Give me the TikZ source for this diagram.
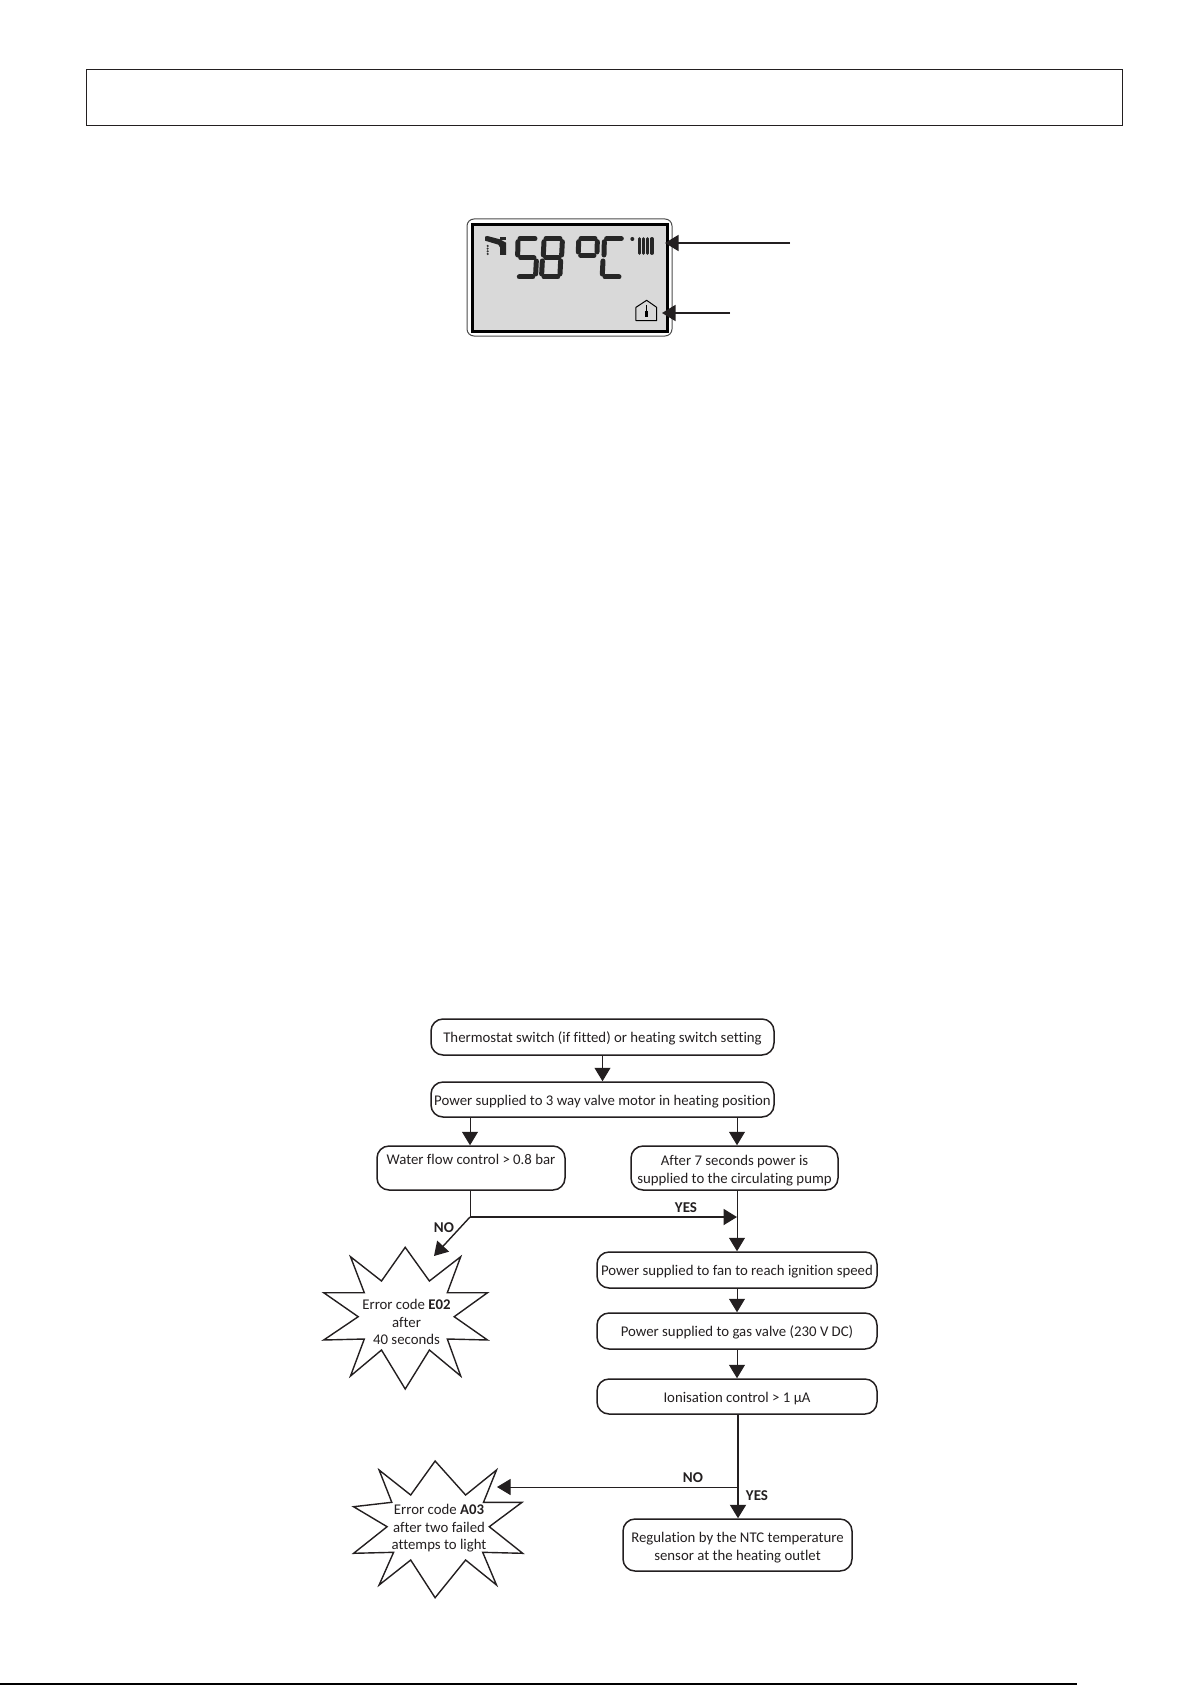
\documentclass[tikz,border=0pt]{standalone}
\usepackage{fontspec}
\setmainfont[Ligatures=NoCommon]{Carlito}
\usetikzlibrary{arrows.meta}
\definecolor{ink}{HTML}{231F20}
\newcommand{\lowered}[1]{\rule{0pt}{#1pt}}
\tikzset{
  flowbox/.style={draw=ink,line width=1.5pt,rounded corners=12pt,inner sep=0pt,align=center,font=\fontsize{14.8}{17.8}\selectfont,text=ink},
  plain/.style={inner sep=0pt,align=center,font=\fontsize{14.8}{17.6}\selectfont,text=ink},
  lab/.style={inner sep=0pt,font=\fontsize{15}{17}\selectfont\bfseries,text=ink},
  tip/.style={-{Triangle[length=13.5pt,width=16pt]},draw=ink,fill=ink},
  thin link/.style={draw=ink,line width=0.95pt},
  mid link/.style={draw=ink,line width=1.4pt},
  thick link/.style={draw=ink,line width=2pt},
  star/.style={draw=ink,line width=1.4pt,line join=miter},
  seg/.style={draw=black!85,line width=5pt,line cap=round},
}
\begin{document}
\begin{tikzpicture}[x=1pt,y=-1pt]
\useasboundingbox (0,0) rectangle (1192,1685);
% header box and footer rule
\node[draw=ink,line width=0.8pt,minimum width=1036pt,minimum height=56pt,inner sep=0pt] (header) at (604,97) {};
\coordinate (ruleA) at (0,1684);
\coordinate (ruleB) at (1077,1684);
\draw[black,line width=2pt] (ruleA) -- (ruleB);
% display
\node[draw=black!70,line width=1pt,rounded corners=7pt,minimum width=205pt,minimum height=117pt,inner sep=0pt] (lcdout) at (569.5,277.5) {};
\node[draw=black,fill=black!15,line width=2.6pt,minimum width=195pt,minimum height=107pt,inner sep=0pt] (lcd) at (570,278) {};
\begin{scope}[shift={(450,200)},x=0.3333pt,y=-0.3333pt]
  % tap
  \fill[black!85] (105,110) -- (105,122) -- (145,134) -- (150,142) -- (150,165) -- (168,165) -- (168,128) -- (150,118) -- (112,108) -- cycle;
  \fill[black!85] (150,112) rectangle (168,121);
  \foreach \yy in {138,146,154,162} \fill[black!80] (113,\yy) circle (3.5);
  % 5
  \draw[seg] (210,116) -- (255,116);
  \draw[seg] (204,125) -- (203,165);
  \draw[seg] (212,174) -- (252,174);
  \draw[seg] (259,183) -- (257,222);
  \draw[seg] (208,231) -- (248,231);
  % 8
  \draw[seg] (288,116) -- (330,116);
  \draw[seg] (282,125) -- (280,165);
  \draw[seg] (337,125) -- (335,165);
  \draw[seg] (287,174) -- (327,174);
  \draw[seg] (277,183) -- (275,222);
  \draw[seg] (332,183) -- (330,222);
  \draw[seg] (282,231) -- (323,231);
  % degree
  \draw[seg] (393,116) -- (435,116);
  \draw[seg] (386,125) -- (385,156);
  \draw[seg] (442,125) -- (441,156);
  \draw[seg] (392,166) -- (432,166);
  % C
  \draw[seg] (470,116) -- (514,116);
  \draw[seg] (463,125) -- (462,165);
  \draw[seg] (459,183) -- (457,222);
  \draw[seg] (465,231) -- (507,231);
  % radiator
  \fill[black!85] (547,117) circle (6);
  \foreach \xx in {568,580,593,606} \draw[black!85,line width=3.2pt,line cap=round] (\xx,116) -- (\xx,160);
  % house
  \draw[black,line width=1pt,line join=round] (590,301) -- (620,322) -- (620,362) -- (558,362) -- (558,322) -- cycle;
  \draw[black,line width=0.7pt] (590,315) -- (590,335);
  \draw[black,line width=2.6pt] (590,333) -- (590,350);
\end{scope}
\coordinate (radTipEnd) at (790,243);
\coordinate (radTip) at (665,243);
\coordinate (houseTipEnd) at (730,313);
\coordinate (houseTip) at (662,313);
\draw[tip,line width=1.5pt] (radTipEnd) -- (radTip);
\draw[tip,line width=1.5pt] (houseTipEnd) -- (houseTip);
% flow boxes
\node[flowbox,minimum width=343pt,minimum height=36pt] (thermo) at (602.5,1037) {\lowered{14}Thermostat switch (if fitted) or heating switch setting};
\node[flowbox,minimum width=343pt,minimum height=35pt] (valve) at (602.5,1099.5) {\lowered{14}Power supplied to 3 way valve motor in heating position};
\node[flowbox,minimum width=188pt,minimum height=44pt] (water) at (471,1168) {\lowered{16}Water flow control > 0.8 bar\\\strut};
\node[flowbox,minimum width=207pt,minimum height=44pt] (pump) at (734.5,1168) {\lowered{16}After 7 seconds power is\\supplied to the circulating pump};
\node[flowbox,minimum width=280pt,minimum height=36pt] (fan) at (737,1270) {\lowered{14}Power supplied to fan to reach ignition speed};
\node[flowbox,minimum width=280pt,minimum height=36pt] (gas) at (737,1331) {\lowered{14}Power supplied to gas valve (230 V DC)};
\node[flowbox,minimum width=280pt,minimum height=35pt] (ion) at (737,1396.5) {\lowered{14}Ionisation control > 1 µA};
\node[flowbox,minimum width=229pt,minimum height=52pt] (ntc) at (737.5,1545) {\lowered{15}Regulation by the NTC temperature\\sensor at the heating outlet};
% stars
\draw[star] (405.2,1247.3) -- (429.4,1281) -- (460.7,1256.7) -- (447.3,1292.7) -- (487.5,1292.7) -- (454.2,1316.7) -- (487.5,1340) -- (447.3,1339) -- (460.7,1376) -- (429.4,1350) -- (405.2,1389) -- (381.5,1350) -- (350.5,1376) -- (364.3,1339) -- (323.7,1340) -- (358.2,1316.7) -- (323.7,1292.7) -- (364.3,1292.7) -- (350.5,1256.7) -- (381.5,1281) -- cycle;
\node[plain] (e02) at (406.5,1322) {Error code \textbf{E02}\\after\\40 seconds};
\draw[star] (435.1,1461) -- (465.6,1495) -- (496.5,1470) -- (483.5,1502.3) -- (522,1502.3) -- (489.3,1526.7) -- (522.7,1553.3) -- (482.7,1552.3) -- (496.5,1585) -- (465.6,1560) -- (435.1,1597.7) -- (410.7,1560) -- (379.1,1585) -- (393.6,1552.3) -- (353.6,1553.3) -- (387.1,1526.7) -- (353.6,1506.7) -- (391.8,1502.3) -- (379.1,1470) -- (410.7,1495) -- cycle;
\node[plain] (a03) at (439,1528.5) {Error code \textbf{A03}\\after two failed\\attemps to light};
% connectors
\coordinate (split) at (470,1217);
\coordinate (noTip) at (434,1256);
\coordinate (noBranch) at (738,1487);
\coordinate (a03Tip) at (497,1487);
\draw[tip,thin link] (thermo) -- (valve);
\draw[tip,thin link] (valve.south -| split) -- (water.north -| split);
\draw[tip,thin link] (valve.south -| fan.north) -- (pump.north -| fan.north);
\draw[thin link] (water.south -| split) -- (split);
\draw[tip,thick link] (split) -- (split -| fan.north);
\draw[tip,mid link] (split) -- (noTip);
\draw[tip,thin link] (pump.south -| fan.north) -- (fan.north);
\draw[tip,thin link] (fan) -- (gas);
\draw[tip,thin link] (gas) -- (ion);
\draw[tip,thick link] (ion.south -| noBranch) -- (ntc.north -| noBranch);
\draw[tip,thin link] (noBranch) -- (a03Tip);
% labels
\node[lab] (yes1) at (686,1208) {YES};
\node[lab] (no1) at (444,1228) {NO};
\node[lab] (no2) at (693,1478) {NO};
\node[lab] (yes2) at (757,1495.5) {YES};
\end{tikzpicture}
\end{document}
